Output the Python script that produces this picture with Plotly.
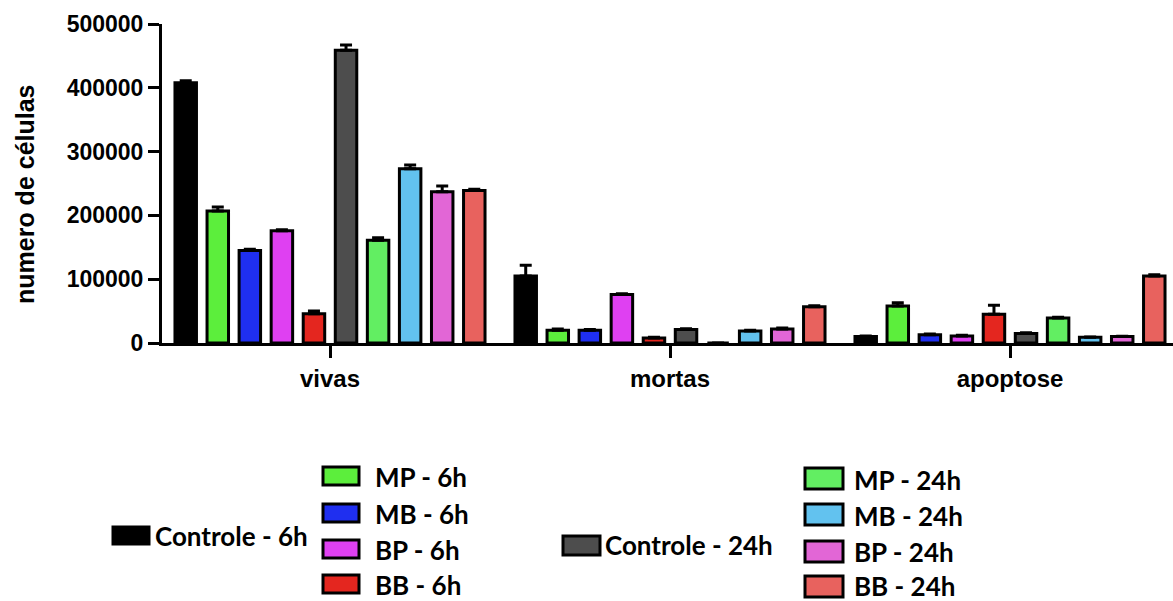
import plotly.graph_objects as go

# ---- data -------------------------------------------------------------
categories = ["vivas", "mortas", "apoptose"]

series_names = [
    "Controle - 6h", "MP - 6h", "MB - 6h", "BP - 6h", "BB - 6h",
    "Controle - 24h", "MP - 24h", "MB - 24h", "BP - 24h", "BB - 24h",
]

ctrl_6h = [408000, 105000, 10000]
mp_6h = [207000, 20000, 58000]
mb_6h = [145000, 20000, 13000]
bp_6h = [176000, 76000, 11000]
bb_6h = [46000, 8000, 45000]
ctrl_24h = [459000, 21000, 15000]
mp_24h = [161000, 0, 39000]
mb_24h = [273000, 19000, 9000]
bp_24h = [237000, 22000, 10000]
bb_24h = [239000, 57000, 105000]

ctrl_6h_err = [3000, 17000, 1000]
mp_6h_err = [6000, 2000, 5000]
mb_6h_err = [2000, 1000, 1000]
bp_6h_err = [1500, 1000, 1000]
bb_6h_err = [4000, 1000, 14000]
ctrl_24h_err = [8000, 1500, 1000]
mp_24h_err = [4000, 0, 1500]
mb_24h_err = [6000, 1000, 500]
bp_24h_err = [9000, 1500, 500]
bb_24h_err = [2000, 1500, 2000]

y_ticks = [0, 100000, 200000, 300000, 400000, 500000]

# ---- styling ----------------------------------------------------------
colors = [
    "#000000", "#5cee3c", "#1f2ff0", "#df40f2", "#e4261f",
    "#4d4d4d", "#62ee62", "#62c2ef", "#e266d6", "#e8625e",
]

values = [ctrl_6h, mp_6h, mb_6h, bp_6h, bb_6h,
          ctrl_24h, mp_24h, mb_24h, bp_24h, bb_24h]
errors = [ctrl_6h_err, mp_6h_err, mb_6h_err, bp_6h_err, bb_6h_err,
          ctrl_24h_err, mp_24h_err, mb_24h_err, bp_24h_err, bb_24h_err]

W, H = 1173, 601
L, R, T, B = 162, 0, 24, 258
plot_w = W - L - R
plot_h = H - T - B

axis_font = dict(family="Liberation Sans, Arial, sans-serif", size=23,
                 color="#000000", weight="bold")

fig = go.Figure()
for name, vals, errs, col in zip(series_names, values, errors, colors):
    fig.add_trace(go.Bar(
        x=categories,
        y=vals,
        name=name,
        marker=dict(color=col, line=dict(color="#000000", width=3)),
        error_y=dict(type="data", symmetric=False, array=errs,
                     arrayminus=[0] * len(errs), color="#000000",
                     thickness=3, width=6),
        showlegend=False,
    ))


def px_x(px):
    return (px - L) / plot_w


def px_y(py):
    return (H - B - py) / plot_h


# ---- legend drawn as swatches + labels --------------------------------
# (left, top, right, bottom) of each swatch, and label left edge / centre
legend_boxes = [
    (113, 527, 149, 544, 153, 536),
    (323, 467, 359, 485, 373, 477),
    (323, 504, 359, 522, 373, 514),
    (323, 540, 359, 558, 373, 550),
    (323, 575, 359, 593, 373, 585),
    (563, 536, 600, 555, 603, 545),
    (805, 468, 843, 489, 852, 480),
    (805, 504, 843, 525, 852, 516),
    (805, 541, 843, 562, 852, 552),
    (805, 576, 843, 597, 852, 586),
]

shapes = []
annotations = []
for (x0, y0, x1, y1, tx, ty), name, col in zip(legend_boxes, series_names, colors):
    shapes.append(dict(
        type="rect", xref="paper", yref="paper",
        x0=px_x(x0), x1=px_x(x1), y0=px_y(y1), y1=px_y(y0),
        fillcolor=col, line=dict(color="#000000", width=3), layer="above",
    ))
    annotations.append(dict(
        text=name, xref="paper", yref="paper",
        x=px_x(tx), y=px_y(ty), xanchor="left", yanchor="middle",
        showarrow=False,
        font=dict(family="Lato, Open Sans, sans-serif", size=26,
                  color="#000000", weight="bold"),
    ))

annotations.append(dict(
    text="numero de células", xref="paper", yref="paper",
    x=px_x(25), y=px_y(194), xanchor="center", yanchor="middle",
    textangle=-90, showarrow=False,
    font=dict(family="Liberation Sans, Arial, sans-serif", size=25,
              color="#000000", weight="bold"),
))

fig.update_layout(
    width=W, height=H,
    margin=dict(l=L, r=R, t=T, b=B, pad=0),
    paper_bgcolor="#ffffff",
    plot_bgcolor="#ffffff",
    barmode="group",
    bargap=0.057,
    bargroupgap=0.33,
    shapes=shapes,
    annotations=annotations,
    xaxis=dict(
        range=[-0.4941, 2.4794],
        showline=True, linecolor="#000000", linewidth=3,
        ticks="outside", ticklen=12, tickwidth=3, tickcolor="#000000",
        showgrid=False, zeroline=False,
        tickfont=dict(family="Liberation Sans, Arial, sans-serif", size=24,
                      color="#000000", weight="bold"),
    ),
    yaxis=dict(
        range=[0, 500000],
        tickvals=y_ticks,
        tickformat="d",
        showline=True, linecolor="#000000", linewidth=3,
        ticks="outside", ticklen=11, tickwidth=3, tickcolor="#000000",
        showgrid=False, zeroline=False,
        tickfont=axis_font,
    ),
)

fig.write_html("out.html")
